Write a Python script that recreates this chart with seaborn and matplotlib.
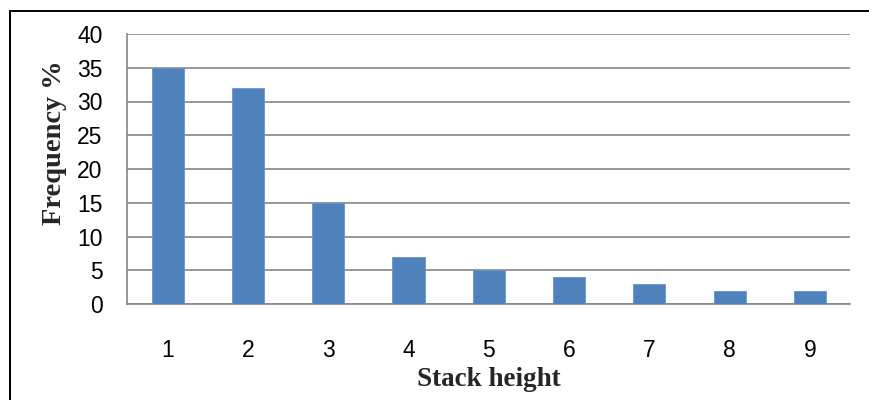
import numpy as np
import pandas as pd
import matplotlib
matplotlib.use('Agg')
import matplotlib.pyplot as plt
from matplotlib.lines import Line2D
import seaborn as sns

# data
stack_height = ['1', '2', '3', '4', '5', '6', '7', '8', '9']
frequency = [35, 32, 15, 7, 5, 4, 3, 2, 2]

df = pd.DataFrame({'Stack height': stack_height, 'Frequency': frequency})

sns.set_style('white')
plt.rcParams['font.family'] = ['Liberation Sans', 'DejaVu Sans']

fig = plt.figure(figsize=(8.7, 4.0), dpi=100)
ax = fig.add_axes([127.5 / 870, 1 - 304 / 400, (850 - 127.5) / 870, (304 - 34) / 400])

grid_col = '#868686'
sns.barplot(data=df, x='Stack height', y='Frequency', order=stack_height,
            color='#4F81BD', saturation=1, width=0.4, ax=ax, zorder=3,
            edgecolor='#6C95C8', linewidth=0.6)

ax.set_ylim(0, 40)
ax.set_xlim(-0.5, len(stack_height) - 0.5)
ax.set_yticks(np.arange(0, 41, 5))
ax.yaxis.grid(True, color=grid_col, linewidth=1.2, zorder=0)
ax.set_axisbelow(True)

for side in ['top', 'right']:
    ax.spines[side].set_visible(False)
for side in ['left', 'bottom']:
    ax.spines[side].set_color(grid_col)
    ax.spines[side].set_linewidth(1.2)

# tick marks between categories, labels at centres
ax.set_xticks(np.arange(-0.5, len(stack_height)), minor=True)
ax.tick_params(axis='x', which='minor', length=5, width=1.2, color=grid_col, direction='out')
ax.tick_params(axis='x', which='major', length=0, pad=25, labelsize=16.5, labelcolor='black')
ax.tick_params(axis='y', length=6, width=1.2, color=grid_col, direction='out', pad=12,
               labelsize=16.5, labelcolor='black')

ax.set_xlabel('Stack height', family='Liberation Serif', fontweight='bold', fontsize=19.5, labelpad=4)
ax.set_ylabel('Frequency %', family='Liberation Serif', fontweight='bold', fontsize=20.5)
ax.yaxis.set_label_coords(-0.0837, 0.596)

# outer frame (only left and top edges are visible in the original)
fig.add_artist(Line2D([10.5 / 870, 10.5 / 870], [0, 1 - 10.5 / 400], transform=fig.transFigure,
                      color='black', linewidth=1.4))
fig.add_artist(Line2D([10.5 / 870, 1], [1 - 10.5 / 400, 1 - 10.5 / 400], transform=fig.transFigure,
                      color='black', linewidth=1.4))

fig.savefig('out.png', dpi=100)
